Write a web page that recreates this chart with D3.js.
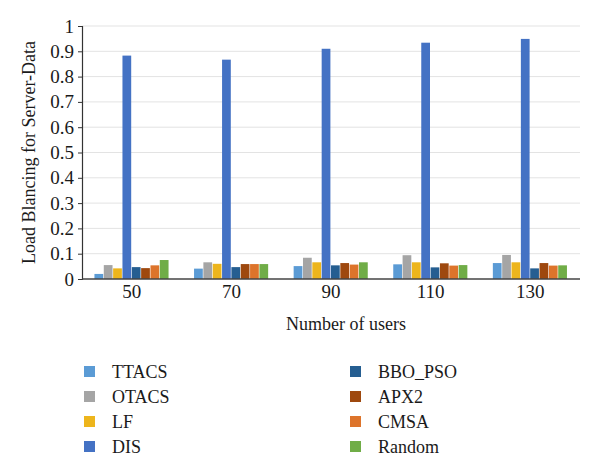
<!DOCTYPE html>
<html>
<head>
<meta charset="utf-8">
<script src="https://cdn.jsdelivr.net/npm/d3@7"></script>
<style>
  body { margin: 0; background: #fff; }
  svg text { font-family: "Liberation Serif", "DejaVu Serif", serif; fill: #1a1a1a; }
</style>
</head>
<body>
<div id="chart"></div>
<script>
const users = ['50', '70', '90', '110', '130'];
const methods = ['TTACS', 'OTACS', 'LF', 'DIS', 'BBO_PSO', 'APX2', 'CMSA', 'Random'];
const colors = ['#5B9BD5', '#A5A5A5', '#EDB51C', '#4472C4', '#255E91', '#9E480E', '#DD742B', '#70AD47'];

const TTACS = [0.020, 0.041, 0.051, 0.058, 0.063];
const OTACS = [0.055, 0.066, 0.084, 0.094, 0.095];
const LF = [0.042, 0.060, 0.066, 0.066, 0.066];
const DIS = [0.883, 0.867, 0.910, 0.934, 0.949];
const BBO_PSO = [0.047, 0.047, 0.054, 0.046, 0.042];
const APX2 = [0.043, 0.059, 0.063, 0.062, 0.063];
const CMSA = [0.054, 0.059, 0.057, 0.053, 0.053];
const Random = [0.075, 0.059, 0.066, 0.055, 0.054];

const seriesValues = [TTACS, OTACS, LF, DIS, BBO_PSO, APX2, CMSA, Random];
const yTicks = [0, 0.1, 0.2, 0.3, 0.4, 0.5, 0.6, 0.7, 0.8, 0.9, 1];

const width = 600, height = 475;
const margin = { top: 26, right: 20, bottom: 196, left: 82 };

const svg = d3.select('#chart')
  .append('svg')
  .attr('width', width)
  .attr('height', height);

const x0 = d3.scaleBand()
  .domain(users)
  .range([margin.left, width - margin.right])
  .paddingInner(0.25)
  .paddingOuter(0.125);

const x1 = d3.scaleBand()
  .domain(methods)
  .range([0, x0.bandwidth()]);

const y = d3.scaleLinear()
  .domain([0, 1])
  .range([height - margin.bottom, margin.top]);

// gridlines
svg.append('g')
  .selectAll('line')
  .data(yTicks.slice(1))
  .join('line')
  .attr('x1', margin.left)
  .attr('x2', width - margin.right)
  .attr('y1', d => y(d))
  .attr('y2', d => y(d))
  .attr('stroke', '#e3e3e3')
  .attr('stroke-width', 1);

// bars
const groups = svg.append('g')
  .selectAll('g')
  .data(users)
  .join('g')
  .attr('transform', d => `translate(${x0(d)},0)`);

groups.selectAll('rect')
  .data((u, i) => methods.map((m, j) => ({ method: m, value: seriesValues[j][i], color: colors[j] })))
  .join('rect')
  .attr('x', d => x1(d.method))
  .attr('y', d => y(d.value))
  .attr('width', x1.bandwidth() - 0.6)
  .attr('height', d => y(0) - y(d.value))
  .attr('fill', d => d.color);

// y axis
const yAxis = svg.append('g')
  .attr('transform', `translate(${margin.left},0)`)
  .call(d3.axisLeft(y).tickValues(yTicks).tickSize(4).tickFormat(d => d === 0 ? '0' : d3.format('')(d)));
yAxis.select('.domain').attr('stroke', '#333').attr('stroke-width', 1.2);
yAxis.selectAll('.tick line').attr('stroke', '#333');
yAxis.selectAll('.tick text')
  .attr('x', -8)
  .style('font-size', '19px')
  .style('font-family', '"Liberation Serif", serif')
  .attr('fill', '#1a1a1a');

// x axis
const xAxis = svg.append('g')
  .attr('transform', `translate(0,${y(0)})`)
  .call(d3.axisBottom(x0).tickSize(0).tickSizeOuter(0));
xAxis.select('.domain').attr('stroke', '#444').attr('stroke-width', 1.5)
  .attr('d', `M${margin.left},0H${width - margin.right}`);
xAxis.selectAll('.tick text')
  .attr('y', 6)
  .attr('dy', '0.71em')
  .style('font-size', '19px')
  .style('font-family', '"Liberation Serif", serif')
  .attr('fill', '#1a1a1a');

// axis titles
svg.append('text')
  .attr('transform', `translate(35,${(y(0) + y(1)) / 2}) rotate(-90)`)
  .attr('text-anchor', 'middle')
  .style('font-size', '18px')
  .text('Load Blancing for Server-Data');

svg.append('text')
  .attr('x', 346)
  .attr('y', 330)
  .attr('text-anchor', 'middle')
  .style('font-size', '18px')
  .text('Number of users');

// legend
const legend = svg.append('g')
  .selectAll('g')
  .data(methods)
  .join('g')
  .attr('transform', (d, i) => `translate(${i < 4 ? 84 : 350},${372 + (i % 4) * 25})`);

legend.append('rect')
  .attr('x', 0)
  .attr('y', -6)
  .attr('width', 11)
  .attr('height', 11)
  .attr('fill', (d, i) => colors[i]);

legend.append('text')
  .attr('x', 28)
  .attr('y', 0)
  .attr('dy', '0.35em')
  .style('font-size', '18px')
  .text(d => d);
</script>
</body>
</html>
